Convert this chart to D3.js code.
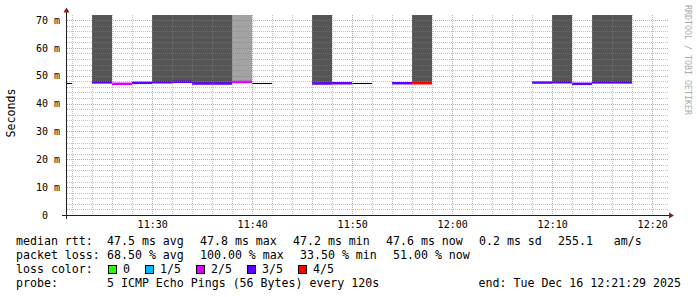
<!DOCTYPE html>
<html>
<head>
<meta charset="utf-8">
<script src="https://cdn.jsdelivr.net/npm/d3@7"></script>
<style>
  body { margin: 0; background: #fff; }
  svg text { font-family: "DejaVu Sans Mono", monospace; white-space: pre; fill: #000; }
</style>
</head>
<body>
<svg id="chart" width="697" height="297"></svg>
<script>
// 2 minute slots (start time), median rtt in ms, lost pings out of 5, highest smoke ping in ms
const slotStarts = ["11:20","11:22","11:24","11:26","11:28","11:30","11:32","11:34","11:36","11:38",
                    "11:40","11:42","11:44","11:46","11:48","11:50","11:52","11:54","11:56","11:58",
                    "12:00","12:02","12:04","12:06","12:08","12:10","12:12","12:14","12:16","12:18"];
const medianMs = [47.4, null, 47.6, 47.1, 47.45, 47.65, 47.8, 47.2, 47.2, 47.75,
                  47.3, null, null, 47.2, 47.3, 47.3, null, 47.3, 47.3, null,
                  null, null, null, null, 47.55, 47.65, 47.1, 47.6, 47.6, null];
const lossCount = [null, null, 3, 2, 3, 3, 3, 3, 3, 2,
                   null, null, null, 3, 3, null, null, 3, 4, null,
                   null, null, null, null, 3, 3, 3, 3, 3, null];
const smokeMaxMs = [null, null, 180, null, null, 210, 190, 240, 200, 150,
                    null, null, null, 170, null, null, null, null, 160, null,
                    null, null, null, null, null, 220, null, 190, 230, null];

const yTickValues = [0, 10, 20, 30, 40, 50, 60, 70];
const yTickLabels = ["0", "10 m", "20 m", "30 m", "40 m", "50 m", "60 m", "70 m"];
const xTickTimes = ["11:30", "11:40", "11:50", "12:00", "12:10", "12:20"];

const lossLabels = ["0", "1/5", "2/5", "3/5", "4/5"];
const lossColors = ["#26ff00", "#00b8ff", "#dd00ff", "#5e00ff", "#ff0000"];

const legendMedian = ["median rtt:", "47.5 ms avg", "47.8 ms max", "47.2 ms min", "47.6 ms now", "0.2 ms sd", "255.1   am/s"];
const legendLoss = ["packet loss:", "68.50 % avg", "100.00 % max", "33.50 % min", "51.00 % now"];
const probeText = ["probe:", "5 ICMP Echo Pings (56 Bytes) every 120s"];
const endText = "end: Tue Dec 16 12:21:29 2025";

const day = "2025-12-16";
const parseT = d3.timeParse("%Y-%m-%d %H:%M:%S");
const tStart = parseT(day + " 11:21:29");
const tEnd = parseT(day + " 12:21:29");

const pLeft = 67, pRight = 667, pTop = 15, pBottom = 215;
const x = d3.scaleTime().domain([tStart, tEnd]).range([pLeft, pRight]);
const y = d3.scaleLinear().domain([0, 71.8]).range([pBottom, pTop]);

const svg = d3.select("#chart");
svg.append("rect").attr("width", 697).attr("height", 297).attr("fill", "#fff");

svg.append("clipPath").attr("id", "plot")
  .append("rect").attr("x", pLeft).attr("y", pTop).attr("width", pRight - pLeft).attr("height", pBottom - pTop);

const slots = slotStarts.map((s, i) => {
  const t0 = parseT(day + " " + s + ":00");
  return { t0: t0, t1: d3.timeMinute.offset(t0, 2), median: medianMs[i], loss: lossCount[i], smoke: smokeMaxMs[i] };
});

const plot = svg.append("g").attr("clip-path", "url(#plot)");

// smoke
plot.selectAll("rect.smoke")
  .data(slots.filter(d => d.smoke != null && d.median != null))
  .enter()
  .append("rect")
  .attr("class", "smoke")
  .attr("x", d => Math.round(x(d.t0)))
  .attr("width", d => Math.round(x(d.t1)) - Math.round(x(d.t0)))
  .attr("y", d => y(d.smoke))
  .attr("height", d => y(d.median) - y(d.smoke))
  .attr("fill", d => d.loss <= 2 ? "#a3a3a3" : "#555555");

// grid
const grid = svg.append("g").attr("shape-rendering", "crispEdges");
const hVals = d3.range(2, 72, 2);
grid.selectAll("line.h")
  .data(hVals)
  .enter()
  .append("line")
  .attr("x1", pLeft).attr("x2", pRight + 1)
  .attr("y1", d => Math.round(y(d)) + 0.5)
  .attr("y2", d => Math.round(y(d)) + 0.5)
  .attr("stroke", d => d % 10 === 0 ? "rgba(222,79,79,0.6)" : "rgba(130,130,130,0.5)")
  .attr("stroke-dasharray", "1,1");

const vTimes = d3.timeMinute.every(2).range(tStart, tEnd);
grid.selectAll("line.v")
  .data(vTimes)
  .enter()
  .append("line")
  .attr("x1", d => Math.round(x(d)) + 0.5)
  .attr("x2", d => Math.round(x(d)) + 0.5)
  .attr("y1", pTop).attr("y2", pBottom)
  .attr("stroke", d => d.getMinutes() % 10 === 0 ? "rgba(222,79,79,0.6)" : "rgba(130,130,130,0.5)")
  .attr("stroke-dasharray", "1,1");

// median lines
plot.selectAll("line.med")
  .data(slots.filter(d => d.median != null))
  .enter()
  .append("line")
  .attr("x1", d => Math.round(x(d.t0)))
  .attr("x2", d => Math.round(x(d.t1)))
  .attr("y1", d => d.loss == null ? Math.round(y(d.median)) + 0.5 : y(d.median))
  .attr("y2", d => d.loss == null ? Math.round(y(d.median)) + 0.5 : y(d.median))
  .attr("stroke", d => d.loss == null ? "#000" : lossColors[d.loss])
  .attr("stroke-width", d => d.loss == null ? 1 : 2.5);

// axes lines and arrows
const axisG = svg.append("g").attr("shape-rendering", "crispEdges");
axisG.append("line").attr("x1", 62).attr("x2", 670).attr("y1", pBottom + 0.5).attr("y2", pBottom + 0.5).attr("stroke", "#1f1f1f");
axisG.append("line").attr("x1", pLeft - 0.5).attr("x2", pLeft - 0.5).attr("y1", 12).attr("y2", pBottom + 4).attr("stroke", "#1f1f1f");
svg.append("path").attr("d", "M669,212.5L674,215.5L669,218.5Z").attr("fill", "#7f1f1f");
svg.append("path").attr("d", "M63.5,12.5L66.5,7.5L69.5,12.5Z").attr("fill", "#7f1f1f");

// tick labels
const xAxis = d3.axisBottom(x)
  .tickValues(xTickTimes.map(s => parseT(day + " " + s + ":00")))
  .tickFormat((d, i) => xTickTimes[i])
  .tickSize(0).tickPadding(6);
const gx = svg.append("g").attr("transform", `translate(0,${pBottom})`).call(xAxis);
gx.select(".domain").remove();
gx.selectAll("text").attr("font-family", "DejaVu Sans Mono").attr("font-size", "10px").attr("fill", "#000");

const yAxis = d3.axisLeft(y)
  .tickValues(yTickValues)
  .tickFormat((d, i) => yTickLabels[i].length < 4 ? yTickLabels[i] + "  " : yTickLabels[i])
  .tickSize(0).tickPadding(7);
const gy = svg.append("g").attr("transform", `translate(${pLeft},0)`).call(yAxis);
gy.select(".domain").remove();
gy.selectAll("text").attr("font-family", "DejaVu Sans Mono").attr("font-size", "10px").attr("fill", "#000")
  .style("white-space", "pre");

// titles
svg.append("text")
  .attr("transform", "translate(14.5,113) rotate(-90)")
  .attr("text-anchor", "middle")
  .attr("font-size", "11.6px")
  .text("Seconds");

svg.append("text")
  .attr("transform", "translate(685,5) rotate(90)")
  .attr("font-size", "8.3px")
  .style("fill", "#ababab")
  .text("RRDTOOL / TOBI OETIKER");

// legend
const cw = 7;
function legendRow(items, baseline) {
  let px = 16;
  items.forEach((s, i) => {
    svg.append("text").attr("x", px).attr("y", baseline).attr("font-size", "11.6px").text(s);
    px = i === 0 ? 107 : px + s.length * cw + 16;
  });
}
legendRow(legendMedian, 245);
legendRow(legendLoss, 259);

svg.append("text").attr("x", 16).attr("y", 273).attr("font-size", "11.6px").text("loss color:");
let lx = 108;
lossLabels.forEach((lbl, i) => {
  svg.append("rect").attr("x", lx + 0.5).attr("y", 265.5).attr("width", 8).attr("height", 8)
    .attr("fill", lossColors[i]).attr("stroke", "#000").attr("shape-rendering", "crispEdges");
  svg.append("text").attr("x", lx + 15).attr("y", 273).attr("font-size", "11.6px").text(lbl);
  lx += 15 + lbl.length * cw + 15;
});

legendRow(probeText, 287);
svg.append("text").attr("x", 681).attr("y", 287).attr("text-anchor", "end").attr("font-size", "11.6px").text(endText);
</script>
</body>
</html>
